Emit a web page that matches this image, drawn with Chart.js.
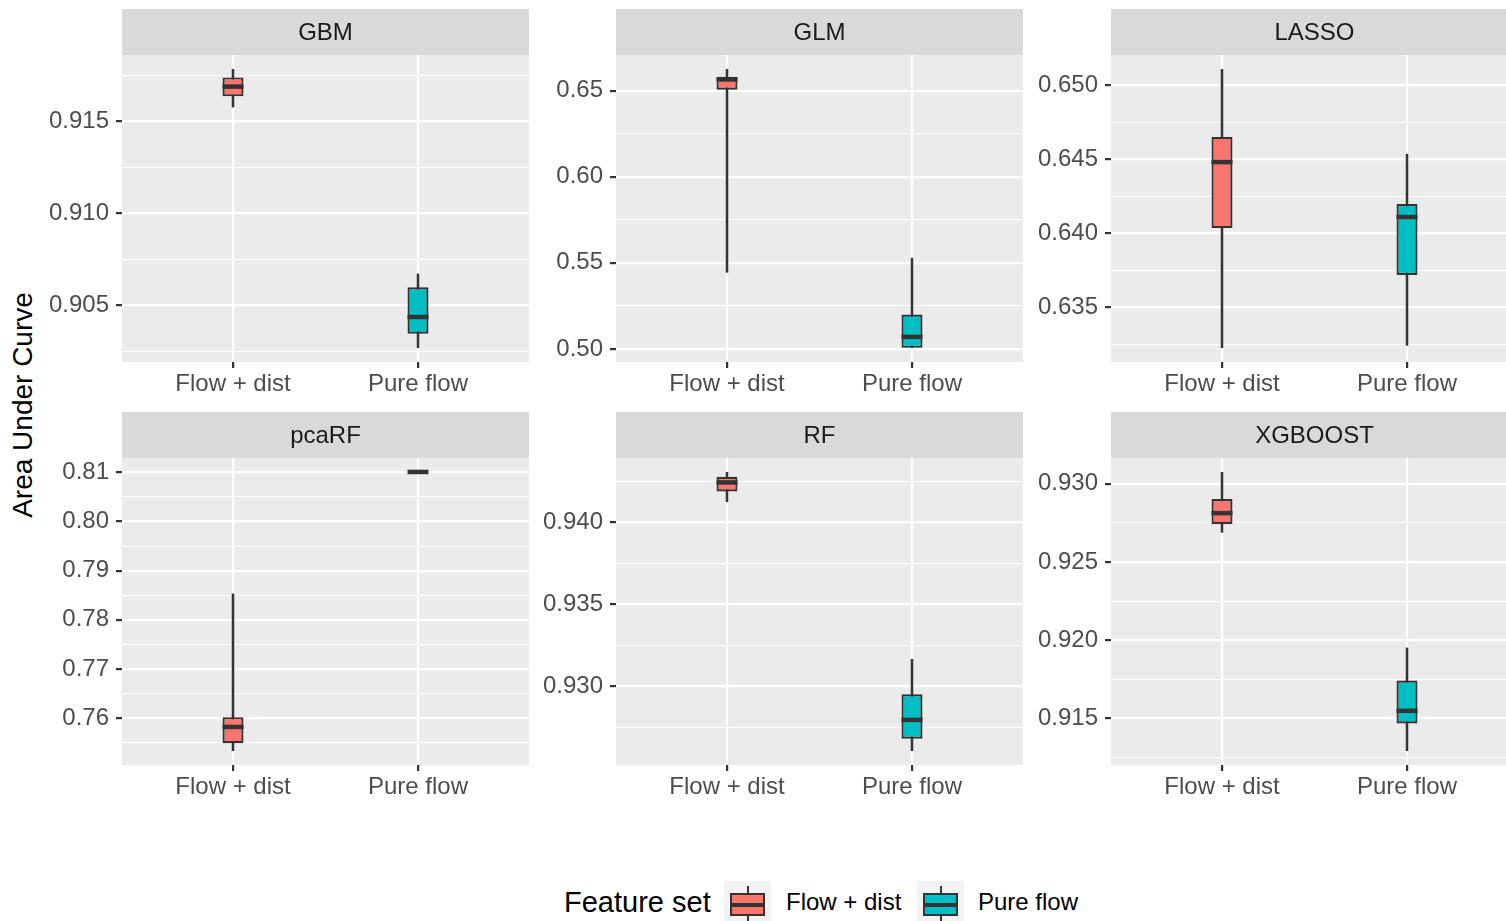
<!DOCTYPE html>
<html>
<head>
<meta charset="utf-8">
<script src="https://cdn.jsdelivr.net/npm/chart.js@4.4.1/dist/chart.umd.min.js"></script>
<style>
  html, body {
    margin: 0; padding: 0; background: #ffffff;
    width: 1506px; height: 921px; overflow: hidden; position: relative;
    font-family: 'Liberation Sans', Arial, sans-serif;
  }
  canvas.panel { position: absolute; }
  #ytitle {
    position: absolute; left: 23px; top: 405px;
    transform: translate(-50%, -50%) rotate(-90deg);
    font-size: 28px; color: #000000; white-space: nowrap; line-height: 1;
  }
  .legend-title, .legend-label {
    position: absolute; white-space: nowrap; line-height: 1;
    transform: translateY(-50%); color: #000000;
  }
  .legend-title { font-size: 29px; }
  .legend-label { font-size: 24px; }
  .legend-key {
    position: absolute; width: 47px; height: 47px; background: #f2f2f2;
  }
  .legend-key .whisker {
    position: absolute; left: 22.5px; width: 2px; top: 4.7px; bottom: 4.7px; background: #333333;
  }
  .legend-key .box {
    position: absolute; left: 5.9px; width: 35.2px; top: 11.75px; height: 23.5px;
    box-sizing: border-box; border: 2px solid #333333;
  }
  .legend-key .median {
    position: absolute; left: 5.9px; width: 35.2px; top: 21.5px; height: 4px; background: #333333;
  }
</style>
</head>
<body>
<div id="ytitle">Area Under Curve</div>
<div id="legend"></div>

<script>
// Models (facets) and the two feature sets compared in each
const models = ['GBM', 'GLM', 'LASSO', 'pcaRF', 'RF', 'XGBOOST'];
const featureSets = ['Flow + dist', 'Pure flow'];
const fillColors = ['#F8766D', '#00BFC4'];

// Box-plot statistics per model: [Flow + dist, Pure flow]
const whiskerLow  = [[0.91575, 0.90267], [0.5443, 0.5005], [0.63224, 0.63240], [0.7533, 0.8101], [0.94125, 0.92606], [0.92687, 0.91292]];
const hingeLow    = [[0.91635, 0.90345], [0.6505, 0.5006], [0.64034, 0.63717], [0.7549, 0.8101], [0.94190, 0.92681], [0.92741, 0.91468]];
const medianAUC   = [[0.91688, 0.90436], [0.6565, 0.5070], [0.64480, 0.64109], [0.7582, 0.8101], [0.94245, 0.92796], [0.92812, 0.91549]];
const hingeHigh   = [[0.91738, 0.90597], [0.6581, 0.5200], [0.64650, 0.64197], [0.7602, 0.8101], [0.94279, 0.92953], [0.92902, 0.91742]];
const whiskerHigh = [[0.91784, 0.90671], [0.6626, 0.5529], [0.65109, 0.64536], [0.78534, 0.8101], [0.94309, 0.93168], [0.93075, 0.91953]];

// Labelled y ticks for each facet (free y scales)
const yTickLabels = [
  ['0.905', '0.910', '0.915'],
  ['0.50', '0.55', '0.60', '0.65'],
  ['0.635', '0.640', '0.645', '0.650'],
  ['0.76', '0.77', '0.78', '0.79', '0.80', '0.81'],
  ['0.930', '0.935', '0.940'],
  ['0.915', '0.920', '0.925', '0.930']
];

// ---- layout of the facet grid ----
const FONT = "'Liberation Sans', Arial, sans-serif";
const DARK = '#333333';
const panelLefts = [122, 616, 1111];
const rowTops = [0, 403];
const PANEL_W = 407;
const AXIS_W = 122;
const CANVAS_H = 400;
const XAXIS_H = 38;
const STRIP_H = 46;

// ggplot-style panel: grey background and grey strip behind the facet title
const panelBackground = {
  id: 'panelBackground',
  beforeDraw(chart) {
    const { ctx, chartArea: a } = chart;
    ctx.save();
    ctx.fillStyle = '#d9d9d9';
    ctx.fillRect(a.left, a.top - STRIP_H, a.right - a.left, STRIP_H);
    ctx.fillStyle = '#ebebeb';
    ctx.fillRect(a.left, a.top, a.right - a.left, a.bottom - a.top);
    ctx.restore();
  }
};

// Median bar drawn across each box
const medianLines = {
  id: 'medianLines',
  afterDatasetsDraw(chart, args, opts) {
    const { ctx, scales } = chart;
    const i = opts.index;
    ctx.save();
    ctx.strokeStyle = DARK;
    ctx.lineWidth = 4.5;
    ctx.lineCap = 'butt';
    featureSets.forEach((f, j) => {
      const x = scales.x.getPixelForValue(j + 1);
      const y = scales.y.getPixelForValue(medianAUC[i][j]);
      ctx.beginPath();
      ctx.moveTo(x - 10.5, y);
      ctx.lineTo(x + 10.5, y);
      ctx.stroke();
    });
    ctx.restore();
  }
};

function yLimits(i) {
  // default continuous expansion: 5% of the data range on each side
  const lo = Math.min(...whiskerLow[i]);
  const hi = Math.max(...whiskerHigh[i]);
  const pad = (hi - lo) * 0.05;
  return [lo - pad, hi + pad];
}

function yBreaks(i, min, max) {
  const majors = yTickLabels[i].map(Number);
  const step = majors[1] - majors[0];
  const minors = [];
  for (let k = -1; k < majors.length; k++) {
    const m = (k < 0 ? majors[0] - step : majors[k]) + step / 2;
    if (m >= min && m <= max) minors.push(+m.toFixed(6));
  }
  return { majors, minors };
}

models.forEach((model, i) => {
  const col = i % 3, row = Math.floor(i / 3);
  const canvas = document.createElement('canvas');
  canvas.className = 'panel';
  canvas.width = AXIS_W + PANEL_W;
  canvas.height = CANVAS_H;
  canvas.style.left = (panelLefts[col] - AXIS_W) + 'px';
  canvas.style.top = rowTops[row] + 'px';
  document.body.appendChild(canvas);

  const [ymin, ymax] = yLimits(i);
  const { majors, minors } = yBreaks(i, ymin, ymax);
  const isMajor = v => majors.some(m => Math.abs(m - v) < 1e-7);
  const labelFor = v => {
    const k = majors.findIndex(m => Math.abs(m - v) < 1e-7);
    return k >= 0 ? yTickLabels[i][k] : '';
  };

  new Chart(canvas, {
    type: 'bar',
    data: {
      datasets: [
        {
          label: 'whiskers',
          data: featureSets.map((f, j) => ({ x: j + 1, y: [whiskerLow[i][j], whiskerHigh[i][j]] })),
          backgroundColor: DARK,
          borderWidth: 0,
          barThickness: 2.5,
          grouped: false,
          inflateAmount: 0,
          order: 2
        },
        {
          label: 'boxes',
          data: featureSets.map((f, j) => ({ x: j + 1, y: [hingeLow[i][j], hingeHigh[i][j]] })),
          backgroundColor: fillColors,
          borderColor: DARK,
          borderWidth: 2.2,
          borderSkipped: false,
          barThickness: 21,
          grouped: false,
          inflateAmount: 0,
          order: 1
        }
      ]
    },
    options: {
      responsive: false,
      animation: false,
      devicePixelRatio: 1,
      events: [],
      layout: { padding: { top: 9, right: 0, bottom: 0, left: 0 } },
      plugins: {
        legend: { display: false },
        tooltip: { enabled: false },
        title: {
          display: true,
          text: model,
          fullSize: false,
          color: '#1a1a1a',
          font: { family: FONT, size: 24, weight: 'normal', lineHeight: 1.2 },
          padding: { top: 10, bottom: 7.2 }
        },
        medianLines: { index: i }
      },
      scales: {
        x: {
          type: 'linear',
          min: 0.4,
          max: 2.6,
          offset: false,
          afterBuildTicks: s => { s.ticks = featureSets.map((f, j) => ({ value: j + 1 })); },
          afterFit: s => { s.height = XAXIS_H; },
          border: { display: false },
          grid: {
            offset: false,
            color: '#ffffff',
            lineWidth: 2.2,
            tickColor: DARK,
            tickWidth: 2.2,
            tickLength: 6
          },
          ticks: {
            autoSkip: false,
            maxRotation: 0,
            padding: 2,
            color: '#4d4d4d',
            font: { family: FONT, size: 24 },
            callback: v => featureSets[Math.round(v) - 1] || ''
          }
        },
        y: {
          type: 'linear',
          min: ymin,
          max: ymax,
          afterBuildTicks: s => {
            s.ticks = [...minors, ...majors].sort((a, b) => a - b).map(v => ({ value: v }));
          },
          afterFit: s => { s.width = AXIS_W; },
          border: { display: false },
          grid: {
            color: '#ffffff',
            lineWidth: c => (c.tick && isMajor(c.tick.value) ? 2.2 : 1.1),
            tickColor: c => (c.tick && isMajor(c.tick.value) ? DARK : 'rgba(0,0,0,0)'),
            tickWidth: 2.2,
            tickLength: 6
          },
          ticks: {
            autoSkip: false,
            padding: 7,
            color: '#4d4d4d',
            font: { family: FONT, size: 24 },
            callback: v => labelFor(v)
          }
        }
      }
    },
    plugins: [panelBackground, medianLines]
  });
});

// ---- legend: "Feature set" with one box glyph per feature set ----
const legend = document.getElementById('legend');
const LEGEND_Y = 904.5;
const LEGEND_TEXT_Y = 902;
function addText(cls, text, left) {
  const el = document.createElement('div');
  el.className = cls;
  el.textContent = text;
  el.style.left = left + 'px';
  el.style.top = LEGEND_TEXT_Y + 'px';
  legend.appendChild(el);
}
addText('legend-title', 'Feature set', 564);
const keyLefts = [724, 917];
const labelLefts = [786, 978];
featureSets.forEach((f, j) => {
  const key = document.createElement('div');
  key.className = 'legend-key';
  key.style.left = keyLefts[j] + 'px';
  key.style.top = (LEGEND_Y - 23.5) + 'px';
  key.innerHTML = '<div class="whisker"></div><div class="box" style="background:' + fillColors[j] +
    '"></div><div class="median"></div>';
  legend.appendChild(key);
  addText('legend-label', f, labelLefts[j]);
});
</script>
</body>
</html>
